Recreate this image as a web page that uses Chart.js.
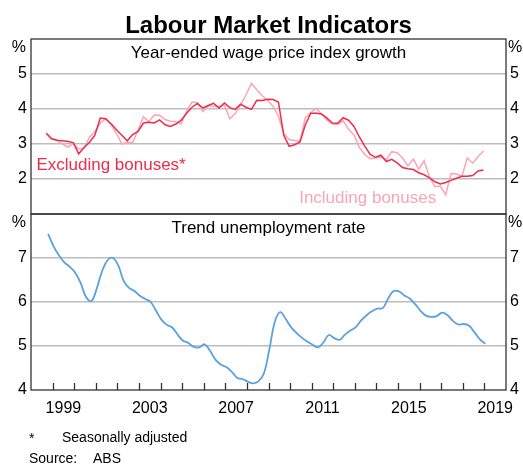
<!DOCTYPE html>
<html>
<head>
<meta charset="utf-8">
<script src="https://cdn.jsdelivr.net/npm/chart.js@4"></script>
<style>
  body { margin: 0; background: #fff; }
  #wrap { position: relative; width: 523px; height: 464px; font-family: Arial, "Liberation Sans", sans-serif; }
  canvas { position: absolute; left: 0; top: 0; }
  .note { position: absolute; font-size: 14px; line-height: 14px; color: #000; white-space: nowrap; }
</style>
</head>
<body>
<div id="wrap">
  <canvas id="wage-chart" width="523" height="215"></canvas>
  <canvas id="unemp-chart" width="523" height="430"></canvas>
  <div class="note" style="left:29px; top:431px;">*</div>
  <div class="note" style="left:62px; top:430px;">Seasonally adjusted</div>
  <div class="note" style="left:29px; top:451px;">Source:</div>
  <div class="note" style="left:93px; top:451px;">ABS</div>
</div>
<script>
// Wage price index, year-ended growth, quarterly from Sep 1998 to Dec 2018
const wpiStart = { year: 1998, quarter: 3 };
const wpiExBonus = [3.31, 3.15, 3.11, 3.09, 3.07, 3.04, 2.72, 2.9, 3.05, 3.25,
    3.74, 3.72, 3.58, 3.41, 3.25, 3.09, 3.27, 3.36, 3.6, 3.62,
    3.6, 3.69, 3.55, 3.5, 3.57, 3.68, 3.88, 4.05, 4.16, 4.03,
    4.1, 4.16, 4.03, 4.17, 4.04, 3.99, 4.14, 4.05, 3.99, 4.25,
    4.24, 4.28, 4.27, 4.2, 3.25, 2.93, 2.98, 3.06, 3.55, 3.88,
    3.88, 3.86, 3.74, 3.6, 3.59, 3.75, 3.68, 3.5, 3.2, 2.94,
    2.7, 2.62, 2.68, 2.5, 2.56, 2.46, 2.33, 2.29, 2.27, 2.18,
    2.12, 2.03, 1.92, 1.86, 1.9, 1.96, 2.02, 2.08, 2.08, 2.1,
    2.23, 2.26];
const wpiInclBonus = [3.3, 3.14, 3.1, 3.0, 2.91, 3.02, 2.85, 2.88, 3.2, 3.35,
    3.6, 3.72, 3.55, 3.3, 3.0, 3.05, 3.04, 3.4, 3.78, 3.64,
    3.83, 3.82, 3.7, 3.65, 3.64, 3.57, 3.95, 4.2, 4.18, 3.93,
    4.09, 4.08, 4.07, 4.11, 3.72, 3.87, 4.12, 4.4, 4.73, 4.55,
    4.38, 4.25, 4.08, 3.8, 3.3, 3.13, 3.1, 3.09, 3.75, 3.9,
    4.02, 3.85, 3.68, 3.57, 3.56, 3.67, 3.42, 3.26, 2.9, 2.7,
    2.58, 2.6, 2.63, 2.55, 2.78, 2.75, 2.6, 2.37, 2.57, 2.28,
    2.52, 2.05, 1.78, 1.8, 1.55, 2.16, 2.14, 2.08, 2.6, 2.45,
    2.64, 2.8];

// Trend unemployment rate, read every third month from Oct 1998 to Jan 2019
const unempStart = { year: 1998, month: 10 };
const unempRate = [7.55, 7.27, 7.06, 6.9, 6.8, 6.67, 6.44, 6.12, 6.02, 6.3,
    6.7, 6.95, 7.0, 6.83, 6.48, 6.32, 6.25, 6.14, 6.07, 6.0,
    5.8, 5.6, 5.48, 5.42, 5.26, 5.12, 5.07, 4.98, 4.97, 5.04,
    4.89, 4.69, 4.58, 4.52, 4.42, 4.28, 4.25, 4.19, 4.15, 4.2,
    4.38, 4.93, 5.55, 5.77, 5.62, 5.43, 5.3, 5.19, 5.1, 5.03,
    4.97, 5.08, 5.25, 5.18, 5.14, 5.26, 5.35, 5.43, 5.58, 5.7,
    5.79, 5.85, 5.86, 6.08, 6.25, 6.24, 6.15, 6.08, 5.95, 5.8,
    5.69, 5.66, 5.68, 5.76, 5.7, 5.57, 5.49, 5.5, 5.46, 5.31,
    5.15, 5.05];

const yearRange = [1998, 2020];
const labelledYears = [1999, 2003, 2007, 2011, 2015, 2019];
const wageTicks = [1, 6];
const unempTicks = [4, 8];

const FONT = 'Arial, "Liberation Sans", sans-serif';
const RED = '#ec2d4b';
const PINK = '#f8a6b7';
const BLUE = '#5aa1e0';
const GRID = '#bdbdbd';

// dates as decimal years, plotted mid-month
function quarterDates(start, n) {
    const out = [];
    for (let i = 0; i < n; i++) {
        const q = start.quarter - 1 + i;
        const year = start.year + Math.floor(q / 4);
        const month = (q % 4) * 3 + 3;
        out.push(year + (month - 0.5) / 12);
    }
    return out;
}

function monthDates(start, n, step) {
    const out = [];
    for (let i = 0; i < n; i++) {
        const m = start.month - 1 + i * step;
        out.push(start.year + Math.floor(m / 12) + ((m % 12) + 0.5) / 12);
    }
    return out;
}

function toPoints(dates, values) {
    return values.map((v, i) => ({ x: dates[i], y: v }));
}

const wpiDates = quarterDates(wpiStart, wpiExBonus.length);
const unempDates = monthDates(unempStart, unempRate.length, 3);

function yAxis(position, range, showMin) {
    const [min, max] = range;
    return {
        position: position,
        min: min,
        max: max,
        afterFit: s => {
            s.width = position === 'left' ? 31 : 17;
            s.paddingTop = 0;
            s.paddingBottom = 0;
        },
        grid: {
            display: position === 'left',
            drawTicks: false,
            lineWidth: 1.5,
            color: c => (c.tick && (c.tick.value === min || c.tick.value === max)) ? 'rgba(0,0,0,0)' : GRID
        },
        border: { display: false },
        ticks: {
            stepSize: 1,
            padding: 4,
            color: '#000',
            font: { size: 16, family: FONT },
            callback: v => (v === max || (v === min && !showMin)) ? '' : v
        }
    };
}

const panelDecor = {
    id: 'panelDecor',
    afterDraw(chart, args, opts) {
        const { ctx, chartArea: a, scales } = chart;
        ctx.save();

        if (opts.tickMarks) {
            ctx.strokeStyle = '#333';
            ctx.lineWidth = 1.3;
            scales.x.ticks.forEach(t => {
                const px = Math.round(scales.x.getPixelForValue(t.value)) + 0.5;
                if (px <= a.left + 2 || px >= a.right - 2) return;
                ctx.beginPath();
                ctx.moveTo(px, a.bottom);
                ctx.lineTo(px, a.bottom - 7);
                ctx.stroke();
            });
        }

        ctx.strokeStyle = '#333';
        ctx.lineWidth = 1.3;
        ctx.strokeRect(a.left, a.top, a.right - a.left, a.bottom - a.top);

        ctx.fillStyle = '#000';
        ctx.font = '16px ' + FONT;
        ctx.textBaseline = 'middle';
        ctx.textAlign = 'right';
        ctx.fillText('%', a.left - 5, a.top + 9);
        ctx.textAlign = 'left';
        ctx.fillText('%', a.right + 2, a.top + 9);

        ctx.font = '17px ' + FONT;
        ctx.textAlign = 'center';
        ctx.textBaseline = 'alphabetic';
        ctx.fillText(opts.title, (a.left + a.right) / 2, a.top + 19);

        if (opts.mainTitle) {
            ctx.font = 'bold 24px ' + FONT;
            ctx.fillText(opts.mainTitle, (a.left + a.right) / 2, a.top - 6.5);
        }

        (opts.labels || []).forEach(l => {
            ctx.fillStyle = l.color;
            ctx.font = '17px ' + FONT;
            ctx.textAlign = 'left';
            ctx.fillText(l.text, scales.x.getPixelForValue(l.x), scales.y.getPixelForValue(l.y));
        });

        ctx.restore();
    }
};

new Chart(document.getElementById('wage-chart'), {
    type: 'line',
    data: {
        datasets: [{
            label: 'Excluding bonuses*',
            data: toPoints(wpiDates, wpiExBonus),
            borderColor: RED,
            borderWidth: 1.5,
            pointRadius: 0,
            tension: 0,
            order: 0
        }, {
            label: 'Including bonuses',
            data: toPoints(wpiDates, wpiInclBonus),
            borderColor: PINK,
            borderWidth: 1.5,
            pointRadius: 0,
            tension: 0,
            order: 1
        }]
    },
    options: {
        responsive: false,
        animation: false,
        devicePixelRatio: 1,
        layout: { padding: { top: 39, bottom: 1, left: 0, right: 0 } },
        plugins: {
            legend: { display: false },
            tooltip: { enabled: false },
            panelDecor: {
                mainTitle: 'Labour Market Indicators',
                title: 'Year-ended wage price index growth',
                labels: [
                    { text: 'Excluding bonuses*', x: 1998.25, y: 2.26, color: RED },
                    { text: 'Including bonuses', x: 2010.42, y: 1.31, color: PINK }
                ]
            }
        },
        scales: {
            x: { type: 'linear', min: yearRange[0], max: yearRange[1], display: false },
            y: yAxis('left', wageTicks, false),
            y2: yAxis('right', wageTicks, false)
        }
    },
    plugins: [panelDecor]
});

new Chart(document.getElementById('unemp-chart'), {
    type: 'line',
    data: {
        datasets: [{
            label: 'Trend unemployment rate',
            data: toPoints(unempDates, unempRate),
            borderColor: BLUE,
            borderWidth: 1.8,
            pointRadius: 0,
            tension: 0.4
        }]
    },
    options: {
        responsive: false,
        animation: false,
        devicePixelRatio: 1,
        layout: { padding: { top: 214, bottom: 0, left: 0, right: 0 } },
        plugins: {
            legend: { display: false },
            tooltip: { enabled: false },
            panelDecor: {
                title: 'Trend unemployment rate',
                tickMarks: true
            }
        },
        scales: {
            x: {
                type: 'linear',
                min: yearRange[0],
                max: yearRange[1],
                afterFit: s => { s.height = 40; },
                grid: { display: false, drawTicks: false },
                border: { display: false },
                ticks: {
                    stepSize: 1,
                    autoSkip: false,
                    maxRotation: 0,
                    maxTicksLimit: 40,
                    labelOffset: 10.8,
                    padding: 9,
                    color: '#000',
                    font: { size: 16, family: FONT },
                    callback: v => labelledYears.includes(v) ? String(v) : ''
                }
            },
            y: yAxis('left', unempTicks, true),
            y2: yAxis('right', unempTicks, true)
        }
    },
    plugins: [panelDecor]
});
</script>
</body>
</html>
